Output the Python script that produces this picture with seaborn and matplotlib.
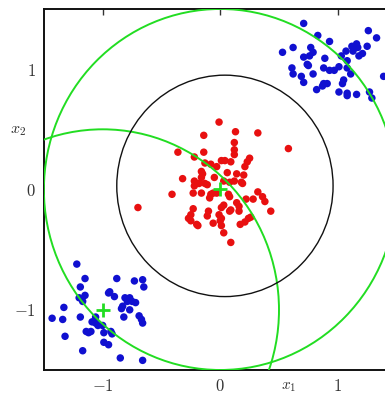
import numpy as np
import pandas as pd
import matplotlib
matplotlib.use("Agg")
import matplotlib.pyplot as plt
from matplotlib.patches import Circle
import seaborn as sns

# ---- data ----
red_x = [-0.01, -0.14, 0.13, 0.32, -0.36, -0.14, 0.12, 0.12, 0.12, 0.58,
         -0.22, 0.25, 0.23, 0.21, 0.01, 0.04, 0.09, -0.13, -0.08, -0.03,
         -0.16, 0.06, 0.14, 0.20, -0.32, -0.16, -0.22, -0.18, -0.05, 0.03,
         0.08, 0.12, 0.18, -0.22, -0.11, -0.41, -0.23, -0.16, -0.08, -0.09,
         -0.03, 0.07, 0.08, 0.32, 0.22, 0.28, 0.36, 0.38, 0.03, 0.01,
         0.14, 0.16, 0.16, 0.09, -0.23, -0.10, -0.11, -0.25, -0.27, -0.25,
         -0.01, 0.01, 0.00, -0.19, -0.06, 0.01, 0.17, 0.24, 0.26, 0.43,
         0.03, 0.09, -0.70, -0.15, -0.13, -0.06, 0.08, 0.21, 0.19, -0.20]
red_y = [0.56, 0.45, 0.48, 0.47, 0.31, 0.31, 0.39, 0.33, 0.29, 0.34,
         0.27, 0.26, 0.23, 0.19, 0.24, 0.24, 0.23, 0.22, 0.21, 0.19,
         0.15, 0.14, 0.13, 0.12, 0.09, 0.10, 0.07, 0.05, 0.10, 0.07,
         0.06, 0.07, 0.06, 0.03, 0.04, -0.04, -0.03, -0.03, -0.04, -0.07,
         -0.03, -0.04, -0.06, -0.02, -0.08, -0.08, -0.06, -0.10, -0.13, -0.15,
         -0.11, -0.14, -0.18, -0.17, -0.16, -0.18, -0.22, -0.21, -0.24, -0.26,
         -0.21, -0.24, -0.26, -0.30, -0.28, -0.30, -0.29, -0.24, -0.23, -0.18,
         -0.36, -0.44, -0.15, 0.13, 0.05, -0.03, -0.18, -0.27, 0.05, -0.29]

blue_x = [0.71, 0.83, 0.93, 1.26, 1.33, 0.53, 0.62, 0.77, 0.79, 0.76,
          0.71, 0.89, 1.03, 1.07, 1.12, 1.16, 1.17, 1.13, 1.21, 1.18,
          1.25, 1.08, 0.74, 0.75, 0.61, 0.62, 0.88, 0.93, 0.97, 1.01,
          1.08, 1.11, 0.79, 0.69, 0.71, 1.39, 1.05, 1.04, 0.88, 0.91,
          0.87, 0.82, 1.01, 1.08, 1.08, 1.16, 1.27, 1.29,
          -1.22, -1.15, -1.19, -0.88, -0.73, -0.66, -0.65, -1.15, -1.20, -1.17,
          -0.95, -0.94, -0.90, -0.81, -0.77, -0.75, -0.79, -0.72, -0.83, -0.84,
          -0.77, -1.33, -1.43, -1.34, -1.19, -1.06, -0.82, -0.69, -0.67, -0.66,
          -1.09, -1.06, -1.04, -1.00, -1.32, -1.14, -1.12, -1.10, -0.99, -0.93,
          -0.92, -0.99, -0.95, -1.17, -0.85, -0.66]
blue_y = [1.38, 1.28, 1.23, 1.32, 1.26, 1.14, 1.18, 1.18, 1.14, 1.11,
          1.10, 1.09, 1.11, 1.15, 1.19, 1.21, 1.18, 1.15, 1.13, 1.11,
          1.19, 1.07, 1.04, 1.03, 1.01, 0.96, 1.01, 0.99, 0.99, 1.02,
          1.01, 0.96, 0.96, 0.94, 0.89, 0.94, 0.91, 0.88, 0.88, 0.88,
          0.86, 0.83, 0.81, 0.80, 0.78, 0.79, 0.81, 0.76,
          -0.62, -0.74, -0.81, -0.74, -0.76, -0.75, -0.81, -0.88, -0.90, -0.93,
          -0.86, -0.85, -0.89, -0.90, -0.90, -0.93, -0.93, -0.94, -0.97, -0.99,
          -1.00, -0.98, -1.07, -1.08, -1.06, -1.06, -1.06, -1.05, -1.08, -1.11,
          -1.10, -1.11, -1.13, -1.13, -1.22, -1.18, -1.19, -1.18, -1.19, -1.18,
          -1.20, -1.27, -1.29, -1.34, -1.40, -1.42]

green_cx = [0.0, -1.0]
green_cy = [0.0, -1.0]
green_r = [1.5, 1.5]
black_cx, black_cy, black_r = 0.04, 0.03, 0.92

tick_values = [-1, 0, 1]
tick_labels = ["$-1$", "$0$", "$1$"]

# ---- style ----
sns.set_style("white")
plt.rcParams["mathtext.fontset"] = "cm"
plt.rcParams["font.family"] = ["DejaVu Serif"]

df = pd.DataFrame({
    "x1": red_x + blue_x,
    "x2": red_y + blue_y,
    "cls": ["red"] * len(red_x) + ["blue"] * len(blue_x),
})

fig = plt.figure(figsize=(3.85, 3.99), dpi=100)
ax = fig.add_axes([0.114, 0.0727, 0.916, 0.9048])

sns.scatterplot(data=df, x="x1", y="x2", hue="cls",
                palette={"red": "#e81010", "blue": "#1010d0"},
                s=29, linewidth=0, legend=False, ax=ax, zorder=2)

for cx, cy, r in zip(green_cx, green_cy, green_r):
    ax.add_patch(Circle((cx, cy), r, fill=False, edgecolor="#22dd22",
                        linewidth=1.4, zorder=3))
ax.add_patch(Circle((black_cx, black_cy), black_r, fill=False,
                    edgecolor="#111111", linewidth=1.0, zorder=3))

ax.plot(green_cx, green_cy, linestyle="none", marker="+", markersize=9.5,
        markeredgewidth=2.0, color="#22dd22", zorder=4)

ax.set_xlim(-1.5, 1.5)
ax.set_ylim(-1.5, 1.5)
ax.set_xticks(tick_values)
ax.set_xticklabels(tick_labels)
ax.set_yticks(tick_values)
ax.set_yticklabels(tick_labels)
ax.tick_params(direction="in", top=True, right=True, length=4.5, width=1,
               labelsize=12, pad=6, colors="#333333")
for sp in ax.spines.values():
    sp.set_linewidth(1.4)
    sp.set_color("#111111")

ax.set_xlabel("")
ax.set_ylabel("")
ax.text(0.58, -1.585, "$x_1$", fontsize=11, ha="center", va="top", color="#333333")
ax.text(-1.72, 0.5, "$x_2$", fontsize=11.5, ha="center", va="center", color="#333333")

fig.savefig("out.png", dpi=100)
